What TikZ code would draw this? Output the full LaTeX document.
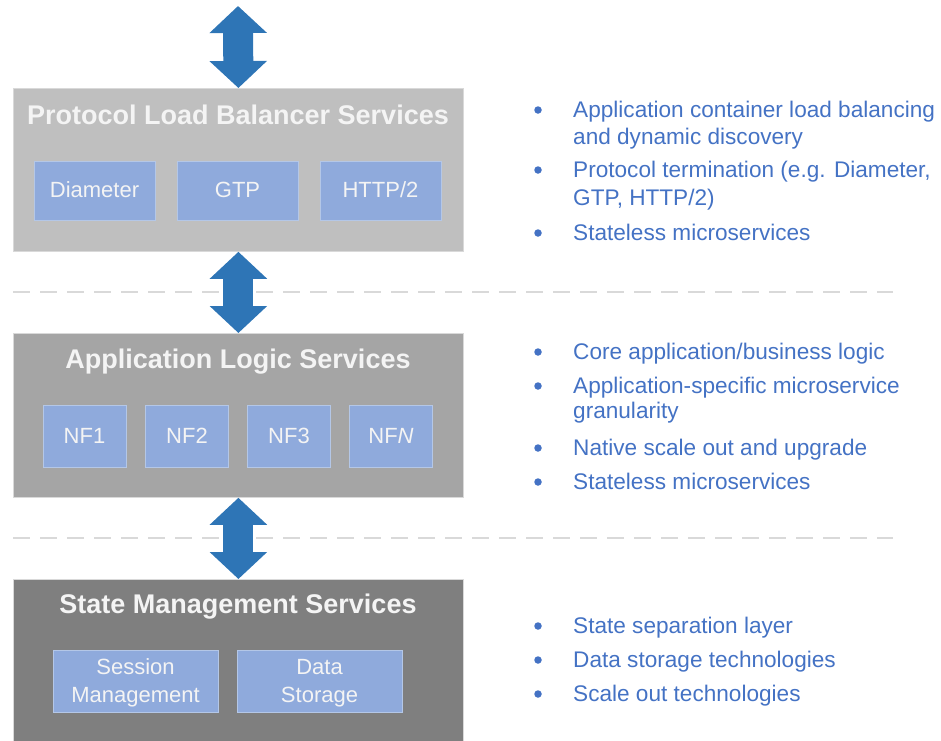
\documentclass[tikz,border=0pt]{standalone}
\usepackage{fontspec}
\setmainfont{Liberation Sans}
\usetikzlibrary{arrows.meta}
\definecolor{boxA}{HTML}{BFBFBF}
\definecolor{boxB}{HTML}{A5A5A5}
\definecolor{boxC}{HTML}{7F7F7F}
\definecolor{subfill}{HTML}{8FAADC}
\definecolor{subline}{HTML}{B4C7E7}
\definecolor{arrowblue}{HTML}{2E75B6}
\definecolor{txtblue}{HTML}{4472C4}
\definecolor{dashgray}{HTML}{D9D9D9}
\definecolor{offwhite}{HTML}{F4F4F4}
\begin{document}
\begin{tikzpicture}[x=1pt,y=-1pt,
  layer/.style={draw=white!85!black, line width=0.8pt, anchor=north west, minimum width=450pt, inner sep=0pt},
  title/.style={anchor=base, text=offwhite, font=\bfseries\fontsize{27}{30}\selectfont, inner sep=0pt},
  subbox/.style={fill=subfill, draw=subline, line width=0.8pt, inner sep=0pt, text=offwhite, font=\fontsize{22}{26}\selectfont, align=center},
  subtxt/.style={anchor=base, text=offwhite, font=\fontsize{22}{26}\selectfont, inner sep=0pt},
  rtext/.style={anchor=base west, text=txtblue, font=\fontsize{22.6}{26}\selectfont, inner sep=0pt},
  bul/.style={circle, fill=txtblue, minimum size=7.5pt, inner sep=0pt},
  bigarrow/.style={draw=arrowblue, line width=30pt,
    {Triangle[width=56pt,length=27pt,fill=arrowblue]}-{Triangle[width=56pt,length=27pt,fill=arrowblue]}},
  sep/.style={draw=dashgray, line width=2.5pt, dash pattern=on 17pt off 10pt}
]
\useasboundingbox (0,0) rectangle (941,740);

% separators
\coordinate (s1a) at (13,292); \coordinate (s1b) at (893,292);
\coordinate (s2a) at (13,538); \coordinate (s2b) at (893,538);
\draw[sep] (s1a) -- (s1b);
\draw[sep] (s2a) -- (s2b);

% layers
\node[layer, fill=boxA, minimum height=163pt] (box1) at (13,88) {};
\node[layer, fill=boxB, minimum height=164pt] (box2) at (13,333) {};
\node[layer, fill=boxC, minimum height=170pt] (box3) at (13,579) {};

\node[title] (t1) at (238,124) {Protocol Load Balancer Services};
\node[title] (t2) at (238,368) {Application Logic Services};
\node[title] (t3) at (238,613) {State Management Services};

% layer 1 sub boxes
\node[subbox, minimum width=121pt, minimum height=59pt] (dia) at (94.5,190.5) {};
\node[subbox, minimum width=121pt, minimum height=59pt] (gtp) at (237.5,190.5) {};
\node[subbox, minimum width=121pt, minimum height=59pt] (http) at (380.5,190.5) {};
\node[subtxt] (diat) at (94.5,197) {Diameter};
\node[subtxt] (gtpt) at (237.5,197) {GTP};
\node[subtxt] (httpt) at (380.5,197) {HTTP/2};

% layer 2 sub boxes
\node[subbox, minimum width=83pt, minimum height=62pt] (nf1) at (84.5,436) {};
\node[subbox, minimum width=83pt, minimum height=62pt] (nf2) at (187,436) {};
\node[subbox, minimum width=83pt, minimum height=62pt] (nf3) at (289,436) {};
\node[subbox, minimum width=83pt, minimum height=62pt] (nfn) at (391,436) {};
\node[subtxt] (nf1t) at (84.5,443) {NF1};
\node[subtxt] (nf2t) at (187,443) {NF2};
\node[subtxt] (nf3t) at (289,443) {NF3};
\node[subtxt] (nfnt) at (391,443) {NF\textit{N}};

% layer 3 sub boxes
\node[subbox, minimum width=165pt, minimum height=62pt] (ses) at (135.5,681) {};
\node[subbox, minimum width=165pt, minimum height=62pt] (dat) at (319.5,681) {};
\node[subtxt] (ses1) at (135.5,674) {Session};
\node[subtxt] (ses2) at (135.5,702) {Management};
\node[subtxt] (dat1) at (319.5,674) {Data};
\node[subtxt] (dat2) at (319.5,702) {Storage};

% arrows
\coordinate (topend) at (238,6);
\draw[bigarrow] (topend) -- (box1.north);
\draw[bigarrow] (box1.south) -- (box2.north);
\draw[bigarrow] (box2.south) -- (box3.north);

% right-hand bullets
\node[bul] (b1) at (538,110) {};
\node[rtext] (r1a) at (573,117) {Application container load balancing};
\node[rtext] (r1b) at (573,144) {and dynamic discovery};
\node[bul] (b2) at (538,170) {};
\node[rtext] (r2a) at (573,177) {Protocol termination (e.g. Diameter,};
\node[rtext] (r2b) at (573,205) {GTP, HTTP/2)};
\node[bul] (b3) at (538,233) {};
\node[rtext] (r3) at (573,240) {Stateless microservices};

\node[bul] (b4) at (538,352) {};
\node[rtext] (r4) at (573,359) {Core application/business logic};
\node[bul] (b5) at (538,386) {};
\node[rtext] (r5a) at (573,393) {Application-specific microservice};
\node[rtext] (r5b) at (573,418) {granularity};
\node[bul] (b6) at (538,448) {};
\node[rtext] (r6) at (573,455) {Native scale out and upgrade};
\node[bul] (b7) at (538,482) {};
\node[rtext] (r7) at (573,489) {Stateless microservices};

\node[bul] (b8) at (538,626) {};
\node[rtext] (r8) at (573,633) {State separation layer};
\node[bul] (b9) at (538,660) {};
\node[rtext] (r9) at (573,667) {Data storage technologies};
\node[bul] (b10) at (538,694) {};
\node[rtext] (r10) at (573,701) {Scale out technologies};
\end{tikzpicture}
\end{document}
